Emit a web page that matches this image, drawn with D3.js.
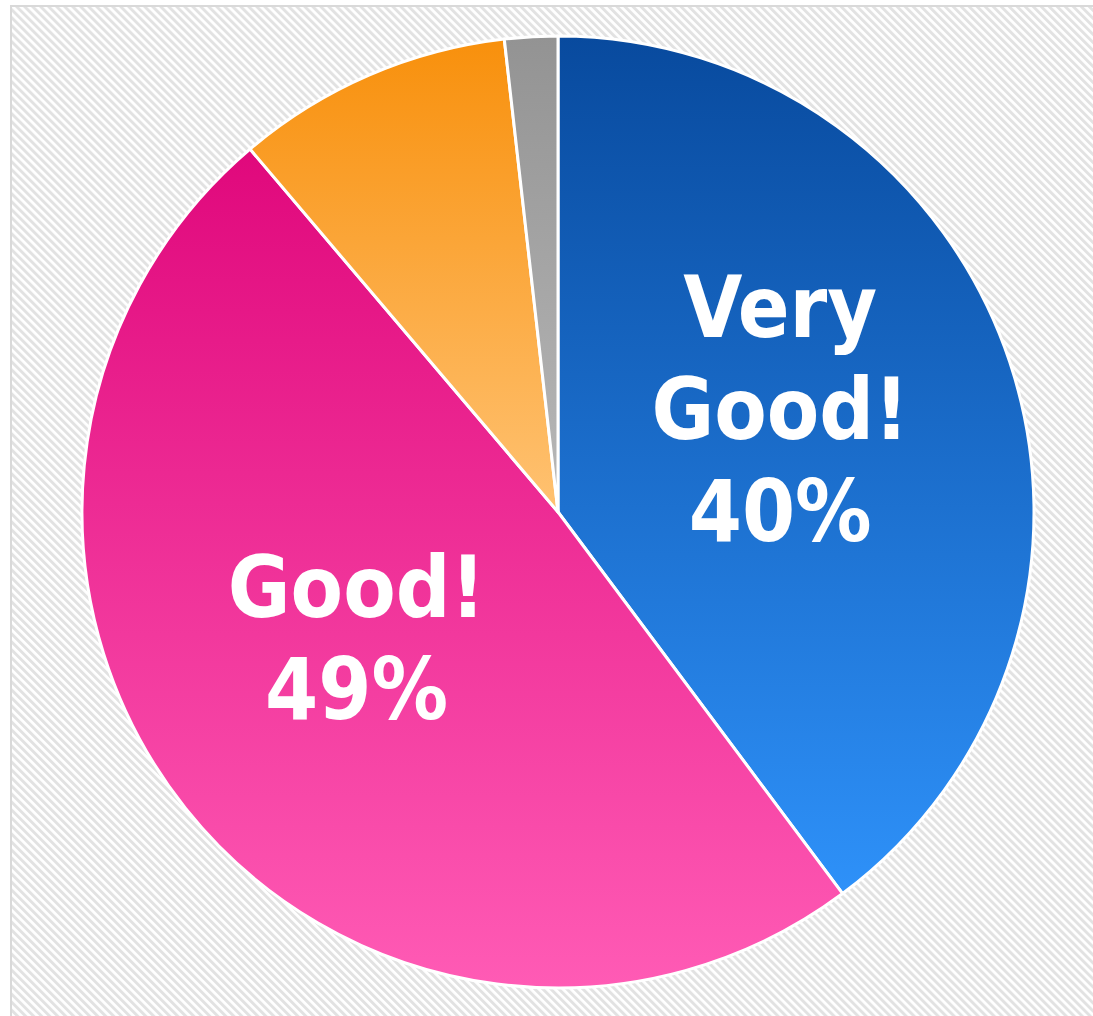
<!DOCTYPE html>
<html>
<head>
<meta charset="utf-8">
<script src="https://cdn.jsdelivr.net/npm/d3@7"></script>
<style>
  html, body { margin: 0; padding: 0; background: #fff; }
  svg { display: block; }
</style>
</head>
<body>
<div id="chart"></div>
<script>
// data (clockwise from 12 o'clock)
const categories = ["Very Good!", "Good!", "Average", "Poor"];
const values = [39.8, 49.0, 9.4, 1.8];
const showLabel = [true, true, false, false];
const topColors = ["#084a9e", "#e0087c", "#f8900c", "#939393"];
const bottomColors = ["#2e91f9", "#ff5bb5", "#ffc272", "#b8b8b8"];

const width = 1093, height = 1016;
const cx = 558, cy = 512, radius = 476;

const svg = d3.select("#chart").append("svg")
    .attr("width", width)
    .attr("height", height);

const defs = svg.append("defs");

//hatched background
const pat = defs.append("pattern")
    .attr("id", "hatch")
    .attr("patternUnits", "userSpaceOnUse")
    .attr("width", 5.66).attr("height", 5.66)
    .attr("patternTransform", "rotate(-45)");
pat.append("rect").attr("width", 5.66).attr("height", 5.66).attr("fill", "#ffffff");
pat.append("rect").attr("width", 2.9).attr("height", 5.66).attr("fill", "#e2e2e2");

svg.append("rect")
    .attr("x", 11).attr("y", 6)
    .attr("width", width + 20).attr("height", height + 20)
    .attr("fill", "url(#hatch)")
    .attr("stroke", "#d9d9d9")
    .attr("stroke-width", 2);

//one vertical gradient per slice
categories.forEach((c, i) => {
    const g = defs.append("linearGradient")
        .attr("id", "grad" + i)
        .attr("x1", 0).attr("y1", 0).attr("x2", 0).attr("y2", 1);
    g.append("stop").attr("offset", "0%").attr("stop-color", topColors[i]);
    g.append("stop").attr("offset", "100%").attr("stop-color", bottomColors[i]);
});

const pie = d3.pie().sort(null).value(d => d);
const arcs = pie(values);
const arc = d3.arc().innerRadius(0).outerRadius(radius);
const labelArc = d3.arc().innerRadius(radius * 0.514).outerRadius(radius * 0.514);

const g = svg.append("g").attr("transform", `translate(${cx},${cy})`);

g.selectAll("path.slice")
    .data(arcs)
    .enter()
    .append("path")
        .attr("class", "slice")
        .attr("d", arc)
        .attr("fill", (d, i) => `url(#grad${i})`)
        .attr("stroke", "#ffffff")
        .attr("stroke-width", 3)
        .attr("stroke-linejoin", "round");

//labels: category words + rounded percent
const lineH = 102;
arcs.forEach((d, i) => {
    if (!showLabel[i]) return;
    const [x, y] = labelArc.centroid(d);
    const lines = categories[i].split(" ");
    lines.push(Math.round(values[i]) + "%");
    const n = lines.length;
    const t = g.append("text")
        .attr("text-anchor", "middle")
        .attr("fill", "#ffffff")
        .style("font-family", "'DejaVu Sans Condensed', 'DejaVu Sans', sans-serif")
        .style("font-weight", "bold")
        .style("font-size", "85px");
    lines.forEach((s, k) => {
        t.append("tspan")
            .attr("x", x - 10)
            .attr("y", y + (k - (n - 1) / 2) * lineH + 4)
            .text(s);
    });
});
</script>
</body>
</html>
